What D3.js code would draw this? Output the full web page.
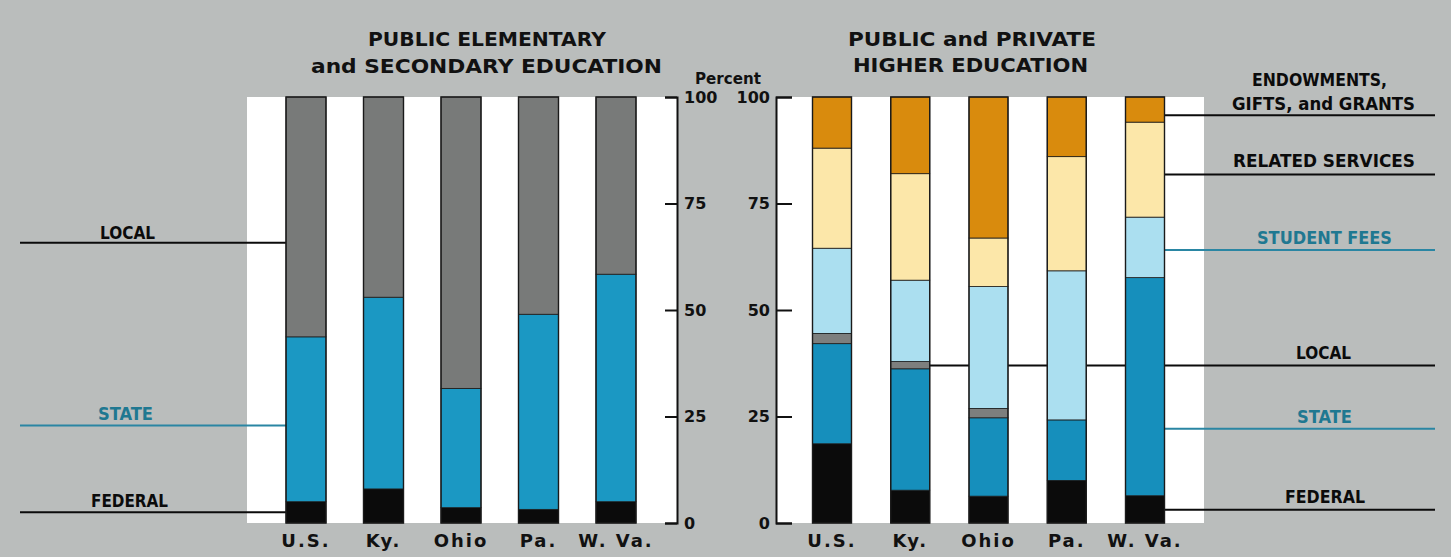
<!DOCTYPE html>
<html>
<head>
<meta charset="utf-8">
<script src="https://cdn.jsdelivr.net/npm/d3@7"></script>
<style>
  html, body { margin: 0; padding: 0; background: #babdbc; }
  svg { display: block; }
  .title { font-family: "DejaVu Sans", sans-serif; font-weight: bold; font-size: 20px; fill: #111; }
  .side { font-family: "DejaVu Sans Condensed", "Liberation Sans Narrow", "DejaVu Sans", sans-serif; font-stretch: condensed; font-weight: bold; font-size: 18.5px; }
  .cat { font-family: "DejaVu Sans", sans-serif; font-weight: bold; font-size: 18px; fill: #111; }
  .tick text { font-family: "DejaVu Sans", sans-serif; font-weight: bold; font-size: 16px; fill: #111; }
</style>
</head>
<body>
<script>
// Sources of revenue, percent of total, by state
const categories = ["U.S.", "Ky.", "Ohio", "Pa.", "W. Va."];

// Public elementary and secondary education
const lowerFederal = [5.0, 8.0, 3.6, 3.2, 5.0];
const lowerState   = [38.7, 45.0, 28.0, 45.8, 53.4];
const lowerLocal   = [56.3, 47.0, 68.4, 51.0, 41.6];

// Public and private higher education
const higherFederal     = [18.6, 7.7, 6.3, 10.0, 6.4];
const higherState       = [23.5, 28.5, 18.4, 14.2, 51.2];
const higherLocal       = [2.4, 1.7, 2.2, 0.0, 0.0];
const higherStudentFees = [20.0, 19.1, 28.6, 35.0, 14.2];
const higherRelated     = [23.5, 25.0, 11.4, 26.8, 22.3];
const higherEndowments  = [12.0, 18.0, 33.1, 14.0, 5.9];

const yTicks = [0, 25, 50, 75, 100];

const W = 1451, H = 557;
const svg = d3.select("body").append("svg").attr("width", W).attr("height", H);

const y = d3.scaleLinear().domain([0, 100]).range([523, 97]);
const BLACK = "#0b0b0b", TEAL = "#2a86a3", TEAL_TEXT = "#1f7891";

const colors = {
  federal: "#0b0b0b",
  stateLow: "#1b98c3",
  localLow: "#787a79",
  stateHigh: "#168fbc",
  localHigh: "#7d7f7e",
  fees: "#abdff0",
  related: "#fce7a9",
  endow: "#d98b0d"
};

// white panels behind each group of bars
svg.append("rect").attr("x", 247).attr("y", y(100)).attr("width", 677 - 247).attr("height", y(0) - y(100)).attr("fill", "#fff");
svg.append("rect").attr("x", 776).attr("y", y(100)).attr("width", 1204 - 776).attr("height", y(0) - y(100)).attr("fill", "#fff");

// ---------- titles ----------
function fitText(sel, x, yb, str, len, cls, fill) {
  return sel.append("text").attr("class", cls).attr("x", x).attr("y", yb)
    .attr("textLength", len).attr("lengthAdjust", "spacingAndGlyphs")
    .attr("fill", fill || "#111").text(str);
}
fitText(svg, 368, 46, "PUBLIC ELEMENTARY", 238, "title");
fitText(svg, 311, 73, "and SECONDARY EDUCATION", 351, "title");
fitText(svg, 848, 46, "PUBLIC and PRIVATE", 248, "title");
fitText(svg, 853, 72, "HIGHER EDUCATION", 235, "title");
fitText(svg, 695, 84, "Percent", 66, "title").style("font-size", "15px");

// ---------- leader lines and side labels ----------
const leftLabels = [
  { text: "LOCAL", v: 65.8, x0: 100, w: 55, yb: 239, color: BLACK, line: BLACK },
  { text: "STATE", v: 22.9, x0: 98, w: 55, yb: 420, color: TEAL_TEXT, line: TEAL },
  { text: "FEDERAL", v: 2.5, x0: 91, w: 77, yb: 507, color: BLACK, line: BLACK }
];
leftLabels.forEach(d => {
  svg.append("line").attr("x1", 20).attr("x2", 290).attr("y1", y(d.v)).attr("y2", y(d.v))
    .attr("stroke", d.line).attr("stroke-width", 2);
  fitText(svg, d.x0, d.yb, d.text, d.w, "side", d.color);
});

const rightLabels = [
  { text: ["ENDOWMENTS,", "GIFTS, and GRANTS"], v: 95.7, x0: [1252, 1232], w: [135, 183], yb: [86, 110], color: BLACK, line: BLACK },
  { text: ["RELATED SERVICES"], v: 81.8, x0: [1233], w: [182], yb: [167], color: BLACK, line: BLACK },
  { text: ["STUDENT FEES"], v: 64.1, x0: [1257], w: [135], yb: [244], color: TEAL_TEXT, line: TEAL },
  { text: ["LOCAL"], v: 37.0, x0: [1296], w: [55], yb: [359], color: BLACK, line: BLACK },
  { text: ["STATE"], v: 22.1, x0: [1297], w: [55], yb: [423], color: TEAL_TEXT, line: TEAL },
  { text: ["FEDERAL"], v: 3.1, x0: [1285], w: [80], yb: [503], color: BLACK, line: BLACK }
];

// scales for the two bar groups
const xLow = d3.scalePoint().domain(categories).range([306, 616]);
const xHigh = d3.scalePoint().domain(categories).range([832, 1145]);
const bwLow = 40, bwHigh = 39;

rightLabels.forEach(d => {
  // the local line runs behind the bars, from Ky. onward
  const x1 = d.text[0] === "LOCAL" ? xHigh("Ky.") : xHigh("W. Va.");
  svg.append("line").attr("x1", x1).attr("x2", 1435).attr("y1", y(d.v)).attr("y2", y(d.v))
    .attr("stroke", d.line).attr("stroke-width", 2);
  d.text.forEach((t, i) => fitText(svg, d.x0[i], d.yb[i], t, d.w[i], "side", d.color));
});

// ---------- stacked bars ----------
function drawStack(xs, bw, layers) {
  const rows = categories.map((c, i) => {
    const r = { cat: c };
    layers.forEach(l => r[l.key] = l.values[i]);
    return r;
  });
  const stack = d3.stack().keys(layers.map(l => l.key))(rows);
  const g = svg.append("g");
  stack.forEach((layer, li) => {
    g.selectAll(null).data(layer).enter().append("rect")
      .attr("x", d => xs(d.data.cat) - bw / 2)
      .attr("width", bw)
      .attr("y", d => y(d[1]))
      .attr("height", d => Math.max(0, y(d[0]) - y(d[1])))
      .attr("fill", layers[li].color)
      .attr("stroke", "#1a1a1a").attr("stroke-width", 0.8);
  });
  // bar outlines
  g.selectAll(null).data(categories).enter().append("rect")
    .attr("x", c => xs(c) - bw / 2).attr("width", bw)
    .attr("y", y(100)).attr("height", y(0) - y(100))
    .attr("fill", "none").attr("stroke", "#1a1a1a").attr("stroke-width", 1.4);
}

drawStack(xLow, bwLow, [
  { key: "federal", values: lowerFederal, color: colors.federal },
  { key: "state", values: lowerState, color: colors.stateLow },
  { key: "local", values: lowerLocal, color: colors.localLow }
]);
drawStack(xHigh, bwHigh, [
  { key: "federal", values: higherFederal, color: colors.federal },
  { key: "state", values: higherState, color: colors.stateHigh },
  { key: "local", values: higherLocal, color: colors.localHigh },
  { key: "fees", values: higherStudentFees, color: colors.fees },
  { key: "related", values: higherRelated, color: colors.related },
  { key: "endow", values: higherEndowments, color: colors.endow }
]);

// ---------- axes ----------
const axLow = svg.append("g").attr("transform", "translate(677,0)")
  .call(d3.axisRight(y).tickValues(yTicks).tickSize(-12).tickPadding(7));
const axHigh = svg.append("g").attr("transform", "translate(776,0)")
  .call(d3.axisLeft(y).tickValues(yTicks).tickSize(-16).tickPadding(6));
[axLow, axHigh].forEach(a => {
  a.select(".domain").attr("stroke", "#111").attr("stroke-width", 2);
  a.selectAll(".tick line").attr("stroke", "#111").attr("stroke-width", 2);
});

// category labels
[[xLow], [xHigh]].forEach(([xs]) => {
  svg.append("g").selectAll("text").data(categories).enter().append("text")
    .attr("class", "cat").attr("x", c => xs(c)).attr("y", 547)
    .attr("text-anchor", "middle").style("letter-spacing", "2px").text(c => c);
});
</script>
</body>
</html>
